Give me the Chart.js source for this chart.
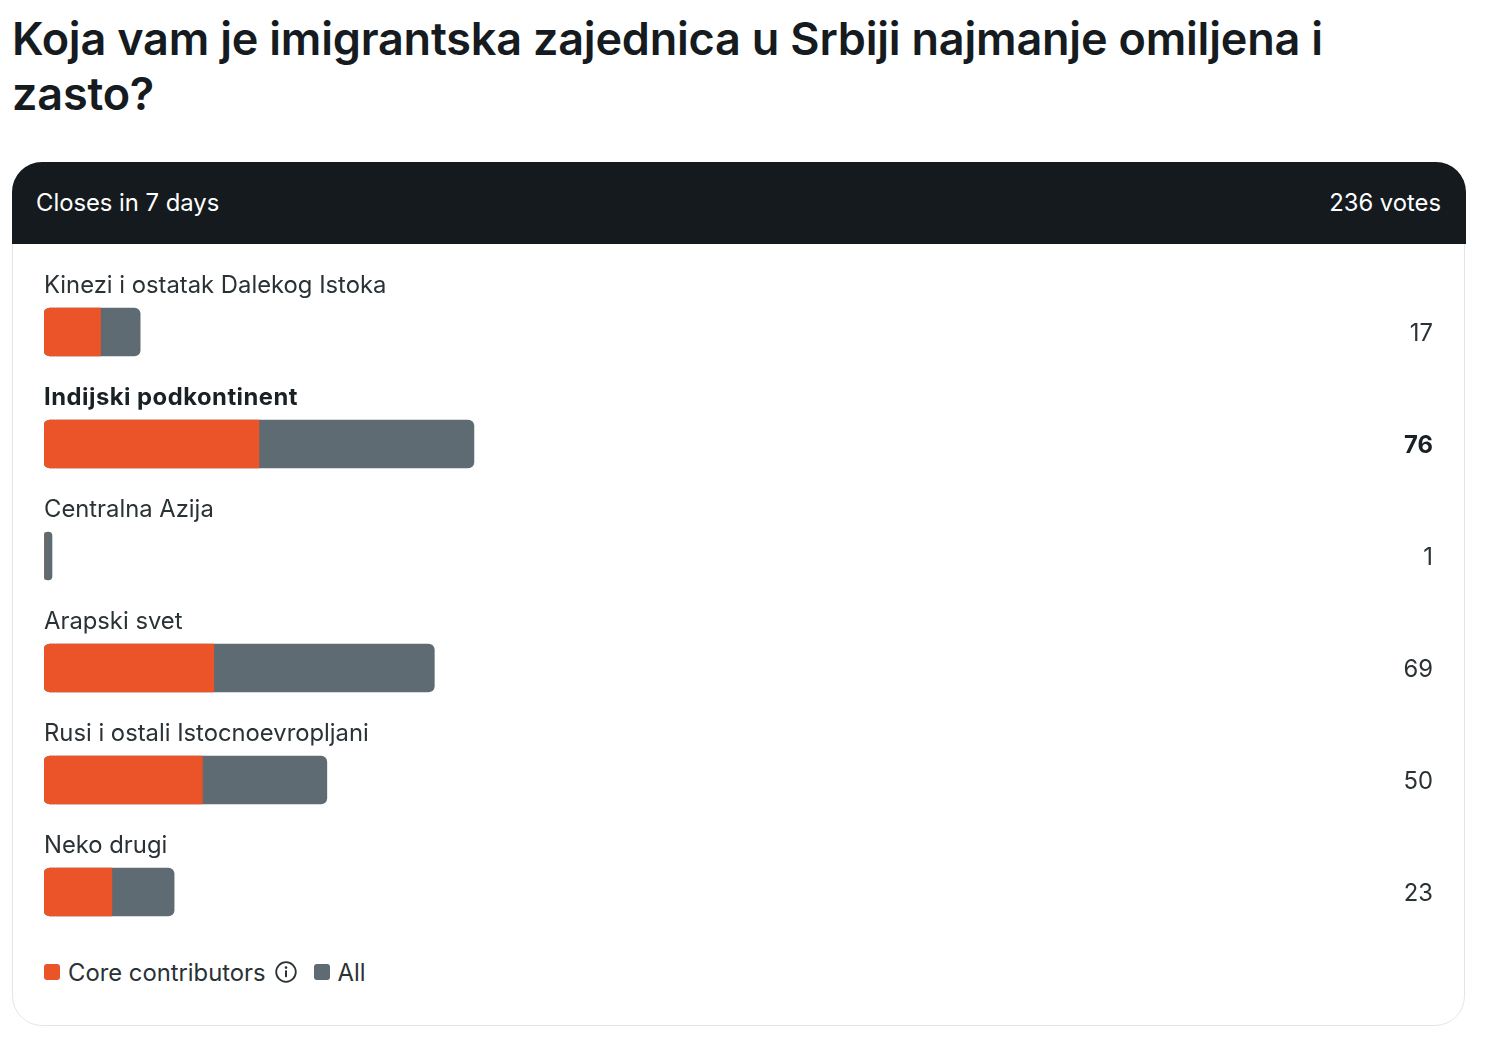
<!DOCTYPE html>
<html>
<head>
<meta charset="utf-8">
<script src="https://cdn.jsdelivr.net/npm/chart.js@4"></script>
<style>
  html, body { margin:0; padding:0; background:#fff; width:1486px; height:1044px; overflow:hidden; font-family: Inter, "Noto Sans", sans-serif; }
  #title { position:absolute; left:12px; top:11px; width:1400px; font-size:45px; font-weight:600; line-height:55px; color:#151b1f; letter-spacing:-0.2px; }
  #card { position:absolute; left:12px; top:162px; width:1451px; height:862px; border:1.5px solid #e3e6e8; border-radius:30px; box-sizing:content-box; }
  #header { position:absolute; left:12px; top:162px; width:1454px; height:82px; background:#141a1d; border-radius:30px 30px 0 0; color:#fff; font-size:23.8px; }
  #header .l { position:absolute; left:24px; top:0; line-height:82px; }
  #header .r { position:absolute; right:25px; top:0; line-height:82px; }
  #legend { position:absolute; left:44px; top:958px; height:28px; font-size:23.8px; color:#2a3236; display:flex; align-items:center; }
  .sw { width:16px; height:16px; border-radius:3px; display:inline-block; margin-right:8px; }
  #chartwrap { position:absolute; left:0; top:0; width:1486px; height:1044px; }
  #c { display:block; }
</style>
</head>
<body>
<div id="title">Koja vam je imigrantska zajednica u Srbiji najmanje omiljena i zasto?</div>
<div id="card"></div>
<div id="header"><span class="l">Closes in 7 days</span><span class="r">236 votes</span></div>
<div id="legend">
  <span class="sw" style="background:#ea5428"></span><span>Core contributors</span>
  <svg width="24" height="24" viewBox="0 0 24 24" style="margin-left:8px;margin-right:16px">
    <circle cx="12" cy="12" r="9.8" fill="none" stroke="#2a3236" stroke-width="1.8"/>
    <circle cx="12" cy="7.6" r="1.3" fill="#2a3236"/>
    <rect x="11" y="10.2" width="2" height="7" rx="0.8" fill="#2a3236"/>
  </svg>
  <span class="sw" style="background:#5f6b73"></span><span>All</span>
</div>
<div id="chartwrap"><canvas id="c" width="1486" height="1044"></canvas></div>
<script>
const categories = ["Kinezi i ostatak Dalekog Istoka", "Indijski podkontinent", "Centralna Azija", "Arapski svet", "Rusi i ostali Istocnoevropljani", "Neko drugi"];
const allVotes = [17, 76, 1, 69, 50, 23];
const coreVotes = [10, 38, 0, 30, 28, 12];
const totalVotes = 236;
const winnerIndex = 1;

const labelPlugin = {
  id: 'pollLabels',
  afterDatasetsDraw(chart) {
    const ctx = chart.ctx;
    const yScale = chart.scales.y;
    const area = chart.chartArea;
    ctx.save();
    categories.forEach((cat, i) => {
      const y = yScale.getPixelForValue(i);
      const bold = i === winnerIndex;
      ctx.fillStyle = bold ? '#1a2125' : '#2a3236';
      ctx.font = (bold ? '700 ' : '400 ') + '23.8px Inter, "Noto Sans", sans-serif';
      ctx.letterSpacing = bold ? '0.5px' : '0px';
      ctx.textBaseline = 'middle';
      ctx.textAlign = 'left';
      ctx.fillText(cat, area.left, y - 46);
      ctx.letterSpacing = '0px';
      ctx.textAlign = 'right';
      ctx.fillText(String(allVotes[i]), 1433, y + 2);
    });
    ctx.restore();
  }
};

new Chart(document.getElementById('c'), {
  type: 'bar',
  data: {
    labels: categories,
    datasets: [
      {
        label: 'Core contributors',
        data: coreVotes,
        backgroundColor: '#ea5428',
        borderRadius: { topLeft: 6, bottomLeft: 6, topRight: 0, bottomRight: 0 },
        borderSkipped: false,
        barThickness: 48,
        grouped: false
      },
      {
        label: 'All',
        data: allVotes,
        backgroundColor: '#5f6b73',
        borderRadius: 6,
        borderSkipped: false,
        barThickness: 48,
        minBarLength: 8,
        grouped: false
      }
    ]
  },
  options: {
    indexAxis: 'y',
    responsive: false,
    animation: false,
    devicePixelRatio: 1,
    layout: { padding: { left: 44, right: 107, top: 276, bottom: 96 } },
    scales: {
      x: { display: false, min: 0, max: totalVotes, grid: { display: false } },
      y: { display: false, grid: { display: false } }
    },
    plugins: { legend: { display: false }, tooltip: { enabled: false } }
  },
  plugins: [labelPlugin]
});
</script>
</body>
</html>
